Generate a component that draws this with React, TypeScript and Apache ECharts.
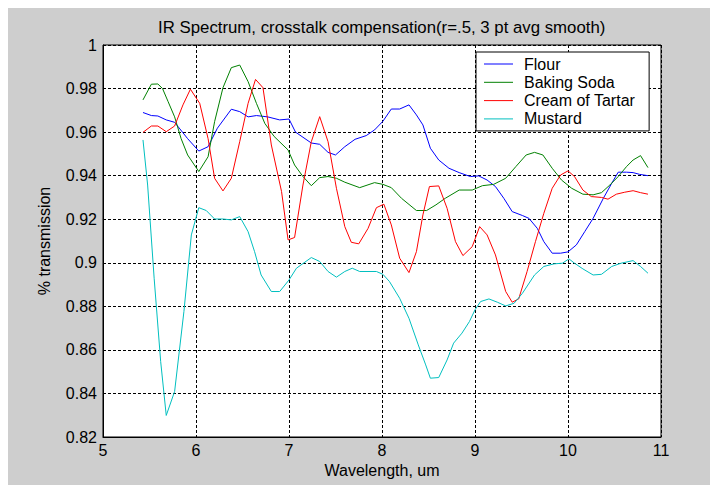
import React, { useEffect, useRef } from "react";
import * as echarts from "echarts";

const titleText = "IR Spectrum, crosstalk compensation(r=.5, 3 pt avg smooth)";
const xName = "Wavelength, um";
const yName = "% transmission";
const seriesNames = ["Flour", "Baking Soda", "Cream of Tartar", "Mustard"];
const seriesColors = ["#0000ff", "#008000", "#ff0000", "#00bfbf"];

const flourX = [5.43, 5.52, 5.59, 5.68, 5.77, 5.91, 6.03, 6.13, 6.23, 6.38, 6.47, 6.56, 6.65, 6.77, 6.9, 7.0, 7.07, 7.24, 7.33, 7.42, 7.5, 7.6, 7.71, 7.83, 7.92, 8.01, 8.1, 8.19, 8.29, 8.37, 8.44, 8.52, 8.61, 8.72, 8.83, 8.95, 9.04, 9.13, 9.22, 9.31, 9.4, 9.51, 9.58, 9.67, 9.74, 9.83, 9.92, 10.0, 10.09, 10.18, 10.27, 10.38, 10.47, 10.54, 10.63, 10.7, 10.77, 10.86];
const flourY = [0.969, 0.9676, 0.9674, 0.9656, 0.9645, 0.957, 0.9513, 0.9533, 0.9618, 0.9705, 0.9694, 0.967, 0.9676, 0.967, 0.9656, 0.966, 0.96, 0.955, 0.9544, 0.9507, 0.9495, 0.9533, 0.9567, 0.9584, 0.961, 0.965, 0.9706, 0.9706, 0.9725, 0.9679, 0.9633, 0.9526, 0.9472, 0.9434, 0.9414, 0.9396, 0.9399, 0.938, 0.935, 0.9296, 0.9235, 0.9217, 0.9204, 0.9158, 0.9097, 0.9044, 0.9044, 0.905, 0.9082, 0.9143, 0.9204, 0.9296, 0.9365, 0.9416, 0.9416, 0.9414, 0.9406, 0.94];

const sodaX = [5.43, 5.52, 5.59, 5.64, 5.7, 5.77, 5.84, 5.91, 6.03, 6.13, 6.2, 6.29, 6.38, 6.47, 6.56, 6.65, 6.74, 6.84, 6.99, 7.06, 7.15, 7.24, 7.33, 7.42, 7.51, 7.6, 7.76, 7.92, 8.01, 8.1, 8.21, 8.37, 8.48, 8.58, 8.68, 8.83, 8.97, 9.08, 9.2, 9.33, 9.44, 9.55, 9.64, 9.73, 9.83, 9.93, 10.04, 10.16, 10.27, 10.36, 10.45, 10.54, 10.63, 10.7, 10.78, 10.86];
const sodaY = [0.9748, 0.982, 0.9821, 0.98, 0.974, 0.967, 0.957, 0.9495, 0.9419, 0.9487, 0.9648, 0.9804, 0.9896, 0.9908, 0.9832, 0.9732, 0.964, 0.958, 0.9518, 0.9449, 0.9396, 0.9354, 0.9391, 0.9396, 0.9388, 0.937, 0.9345, 0.9368, 0.936, 0.9345, 0.9296, 0.924, 0.924, 0.9266, 0.9296, 0.9334, 0.9334, 0.9354, 0.936, 0.9388, 0.9442, 0.9495, 0.9507, 0.9495, 0.9434, 0.938, 0.9342, 0.9315, 0.9312, 0.9322, 0.9357, 0.9396, 0.9442, 0.9472, 0.9492, 0.9437];

const tartarX = [5.43, 5.52, 5.59, 5.68, 5.77, 5.86, 5.94, 6.04, 6.13, 6.2, 6.29, 6.38, 6.47, 6.56, 6.64, 6.72, 6.81, 6.92, 6.99, 7.06, 7.15, 7.24, 7.33, 7.42, 7.51, 7.6, 7.67, 7.75, 7.85, 7.94, 8.02, 8.1, 8.19, 8.29, 8.37, 8.44, 8.51, 8.61, 8.7, 8.79, 8.87, 8.97, 9.05, 9.13, 9.22, 9.33, 9.4, 9.47, 9.56, 9.65, 9.74, 9.83, 9.92, 10.0, 10.07, 10.16, 10.25, 10.36, 10.43, 10.52, 10.61, 10.7, 10.78, 10.86];
const tartarY = [0.9599, 0.9628, 0.9628, 0.9602, 0.9628, 0.9725, 0.9797, 0.9732, 0.957, 0.9388, 0.933, 0.9388, 0.9556, 0.9732, 0.9842, 0.9804, 0.9541, 0.9327, 0.9105, 0.9116, 0.9357, 0.9556, 0.9671, 0.9556, 0.9342, 0.9166, 0.9094, 0.9087, 0.9158, 0.9253, 0.9269, 0.9174, 0.9021, 0.8955, 0.9051, 0.922, 0.935, 0.9353, 0.925, 0.9097, 0.9033, 0.9074, 0.9166, 0.9128, 0.9036, 0.8868, 0.8819, 0.8834, 0.896, 0.9097, 0.9227, 0.9342, 0.9403, 0.9422, 0.9396, 0.9334, 0.9304, 0.93, 0.9292, 0.9315, 0.9324, 0.9331, 0.9322, 0.9315];

const mustardX = [5.43, 5.48, 5.55, 5.62, 5.68, 5.77, 5.87, 5.95, 6.03, 6.11, 6.2, 6.29, 6.38, 6.47, 6.56, 6.63, 6.7, 6.81, 6.9, 7.0, 7.08, 7.24, 7.33, 7.42, 7.51, 7.6, 7.68, 7.76, 7.94, 8.01, 8.08, 8.19, 8.29, 8.39, 8.47, 8.52, 8.61, 8.7, 8.77, 8.86, 8.94, 9.0, 9.06, 9.15, 9.24, 9.33, 9.42, 9.51, 9.64, 9.74, 9.85, 9.94, 10.01, 10.07, 10.16, 10.27, 10.36, 10.47, 10.57, 10.7, 10.78, 10.86];
const mustardY = [0.9564, 0.9357, 0.8929, 0.8547, 0.8299, 0.8409, 0.8776, 0.9128, 0.9253, 0.924, 0.9201, 0.9201, 0.9197, 0.9212, 0.9143, 0.9051, 0.8944, 0.8868, 0.8868, 0.8921, 0.8975, 0.9024, 0.9006, 0.896, 0.8934, 0.896, 0.8975, 0.896, 0.896, 0.8947, 0.8914, 0.8837, 0.8745, 0.8623, 0.8531, 0.847, 0.8473, 0.8554, 0.8631, 0.8677, 0.873, 0.8784, 0.8822, 0.8834, 0.8819, 0.8802, 0.8814, 0.886, 0.8944, 0.8983, 0.8995, 0.8998, 0.9018, 0.8998, 0.8972, 0.8944, 0.8947, 0.8983, 0.8998, 0.901, 0.8983, 0.8952];

const xMin = 5, xMax = 11, xStep = 1;
const yMin = 0.82, yMax = 1, yStep = 0.02;

const allX = [flourX, sodaX, tartarX, mustardX];
const allY = [flourY, sodaY, tartarY, mustardY];

const FONT = "'Liberation Sans', Arial, Helvetica, sans-serif";

export default function App() {
  const ref = useRef<HTMLDivElement>(null);
  useEffect(() => {
    if (!ref.current) return;
    const chart = echarts.init(ref.current, null, { renderer: "svg" });
    const gridLine = { show: true, lineStyle: { color: "#000", type: [3, 2], width: 1 } };
    chart.setOption({
      animation: false,
      backgroundColor: "#cecece",
      textStyle: { fontFamily: FONT },
      title: {
        text: titleText,
        left: 373.7,
        top: 11,
        padding: 0,
        textAlign: "center",
        textStyle: { fontFamily: FONT, fontSize: 16.8, fontWeight: "normal", color: "#000" },
      },
      legend: {
        orient: "vertical",
        left: 468,
        top: 44,
        padding: [4, 14, 4, 8],
        icon: "rect",
        itemWidth: 29,
        itemHeight: 1,
        itemGap: 2.3,
        backgroundColor: "#ffffff",
        borderColor: "#000",
        borderWidth: 1,
        textStyle: { fontFamily: FONT, fontSize: 16, color: "#000", lineHeight: 16, padding: [0, 0, 0, 6] },
        data: seriesNames,
      },
      grid: {
        left: 95,
        top: 37,
        width: 558,
        height: 392,
        show: true,
        backgroundColor: "#ffffff",
        borderColor: "#000",
        borderWidth: 1,
      },
      xAxis: {
        type: "value",
        min: xMin,
        max: xMax,
        interval: xStep,
        name: xName,
        nameLocation: "middle",
        nameGap: 22,
        nameTextStyle: { fontFamily: FONT, fontSize: 16, color: "#000" },
        axisLine: { show: true, lineStyle: { color: "#000" } },
        axisTick: { show: false },
        axisLabel: { fontFamily: FONT, fontSize: 16, color: "#000", margin: 5 },
        splitLine: gridLine,
      },
      yAxis: {
        type: "value",
        min: yMin,
        max: yMax,
        interval: yStep,
        name: yName,
        nameLocation: "middle",
        nameGap: 51,
        nameTextStyle: { fontFamily: FONT, fontSize: 16, color: "#000" },
        axisLine: { show: true, lineStyle: { color: "#000" } },
        axisTick: { show: false },
        axisLabel: {
          fontFamily: FONT,
          fontSize: 16,
          color: "#000",
          margin: 6,
          formatter: (v: number) => String(parseFloat(v.toFixed(2))),
        },
        splitLine: gridLine,
      },
      series: seriesNames.map((name, i) => ({
        name,
        type: "line",
        symbol: "none",
        data: allX[i].map((x, j) => [x, allY[i][j]]),
        lineStyle: { color: seriesColors[i], width: 1 },
        itemStyle: { color: seriesColors[i] },
      })),
    });
    return () => chart.dispose();
  }, []);
  return <div ref={ref} style={{ width: 710, height: 477 }} />;
}
